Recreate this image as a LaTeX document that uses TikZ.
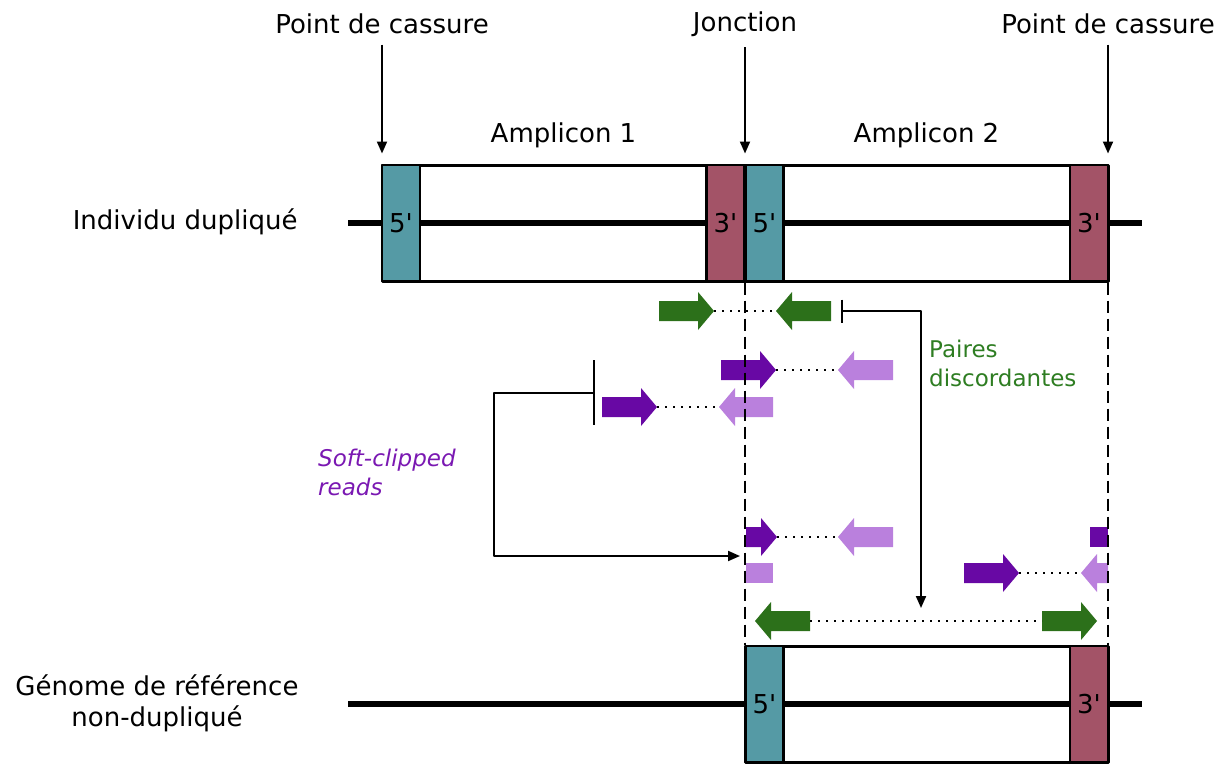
\documentclass[tikz,border=0pt]{standalone}
\usepackage{fontspec}
\setmainfont{DejaVu Sans}
\usetikzlibrary{calc,arrows.meta,positioning}
\definecolor{tealbox}{RGB}{85,154,165}
\definecolor{redbox}{RGB}{163,83,103}
\definecolor{greenread}{RGB}{44,112,26}
\definecolor{darkpurple}{RGB}{104,8,164}
\definecolor{lightpurple}{RGB}{186,128,221}
\definecolor{greentext}{RGB}{46,125,34}
\definecolor{purpletext}{RGB}{122,24,178}

% read arrow: name, colour, tail x, tip x, y
\newcommand{\readarrow}[5]{%
  \coordinate (#1-t) at (#3,#5);
  \coordinate (#1-h) at (#4,#5);
  \coordinate (#1-b) at ($(#1-h)!16pt!(#1-t)$);
  \fill[#2] ($(#1-t)+(0,-10)$) -- ($(#1-b)+(0,-10)$) -- ($(#1-b)+(0,-19)$) -- (#1-h)
    -- ($(#1-b)+(0,19)$) -- ($(#1-b)+(0,10)$) -- ($(#1-t)+(0,10)$) -- cycle;
}
\newcommand{\prm}{\textquotesingle}

\begin{document}
\begin{tikzpicture}[x=1pt, y=-1pt, line join=round, >={Triangle[length=12pt,width=10pt]},
  lbl/.style={font=\fontsize{26}{31}\selectfont},
  note/.style={font=\fontsize{23}{29}\selectfont, align=left, anchor=west, inner sep=0},
  backbone/.style={line width=6pt},
  ampbox/.style={draw, line width=3pt, minimum width=363pt, minimum height=116pt, inner sep=0},
  fivebox/.style={draw, line width=2.5pt, fill=tealbox, minimum width=38pt, minimum height=116pt, inner sep=0, lbl},
  threebox/.style={fivebox, fill=redbox},
  guide/.style={line width=2pt, dash pattern=on 12pt off 6pt},
  pairline/.style={line width=2pt, dash pattern=on 2pt off 6pt},
  link/.style={line width=2pt}]
  \useasboundingbox (0,0) rectangle (1228,763);

  % top labels
  \node[lbl] (brk1) at (382,24) {Point de cassure};
  \node[lbl] (jct) at (745,24) {Jonction};
  \node[lbl] (brk2) at (1108,24) {Point de cassure};

  % individu duplique
  \draw[backbone] (348,223) -- (1142,223);
  \node[ampbox] (amp1) at (563.5,223) {};
  \node[ampbox] (amp2) at (926.5,223) {};
  \node[fivebox] (a1five) at (401,223) {5\prm};
  \node[threebox] (a1three) at (725.5,223) {3\prm};
  \node[fivebox] (a2five) at (764.5,223) {5\prm};
  \node[threebox] (a2three) at (1089,223) {3\prm};
  \node[lbl] (amp1lbl) at (563.5,135) {Amplicon 1};
  \node[lbl] (amp2lbl) at (926.5,135) {Amplicon 2};
  \node[lbl, anchor=east] (indiv) at (301,222) {Individu dupliqué};

  \draw[->, link, shorten <=7pt, shorten >=10pt] (brk1.south) -- (brk1.south |- amp1.north);
  \draw[->, link, shorten <=7pt, shorten >=10pt] (jct.south) -- (jct.south |- amp2.north);
  \draw[->, link, shorten <=7pt, shorten >=10pt] (brk2.south) -- (brk2.south |- amp2.north);

  % reference
  \draw[backbone] (348,704) -- (1142,704);
  \node[ampbox] (ref) at (926.5,704) {};
  \node[fivebox] (rfive) at (764.5,704) {5\prm};
  \node[threebox] (rthree) at (1089,704) {3\prm};
  \node[lbl, align=center] (refg) at (157,703) {Génome de référence\\non-dupliqué};

  % reads
  \readarrow{g1}{greenread}{659}{714}{311}
  \readarrow{g2}{greenread}{831}{776}{311}
  \draw[pairline] (g1-h) -- (g2-h);
  \readarrow{p1}{darkpurple}{721}{776}{370}
  \readarrow{p2}{lightpurple}{893}{838}{370}
  \draw[pairline] (p1-h) -- (p2-h);
  \readarrow{p3}{darkpurple}{602}{657}{407}
  \readarrow{p4}{lightpurple}{773}{719}{407}
  \draw[pairline] (p3-h) -- (p4-h);
  \readarrow{p5}{darkpurple}{746}{777}{537}
  \readarrow{p6}{lightpurple}{893}{838}{537}
  \draw[pairline] (p5-h) -- (p6-h);
  \fill[darkpurple] (1090,527) rectangle (1108,547);
  \fill[lightpurple] (746,563) rectangle (773,583);
  \readarrow{p9}{darkpurple}{964}{1019}{573}
  \readarrow{p10}{lightpurple}{1108}{1081}{573}
  \draw[pairline] (p9-h) -- (p10-h);
  \readarrow{g3}{greenread}{810}{755}{621}
  \readarrow{g4}{greenread}{1042}{1097}{621}
  \draw[pairline] (g3-t) -- (g4-t);

  % guides
  \draw[guide] (jct.south |- amp2.south) -- (jct.south |- ref.north);
  \draw[guide] (brk2.south |- amp2.south) -- (brk2.south |- ref.north);

  % discordant pairs
  \coordinate (gbar) at (842,311);
  \coordinate (gend) at (921,608);
  \draw[link] ([yshift=11.5pt]gbar) -- ([yshift=-11.5pt]gbar);
  \draw[link, ->] (gbar) -| (gend);
  \node[note, text=greentext] (pairs) at (929,363) {Paires\\discordantes};

  % soft-clipped reads
  \coordinate (pbar) at (594,393);
  \coordinate (pend) at (740,556);
  \draw[link] ([yshift=33pt]pbar) -- ([yshift=-32pt]pbar);
  \draw[link, ->] (pbar) -- ++(-100,0) |- (pend);
  \node[note, text=purpletext, font=\fontsize{23}{29}\selectfont\itshape] (soft) at (318,472) {Soft-clipped\\reads};
\end{tikzpicture}
\end{document}
